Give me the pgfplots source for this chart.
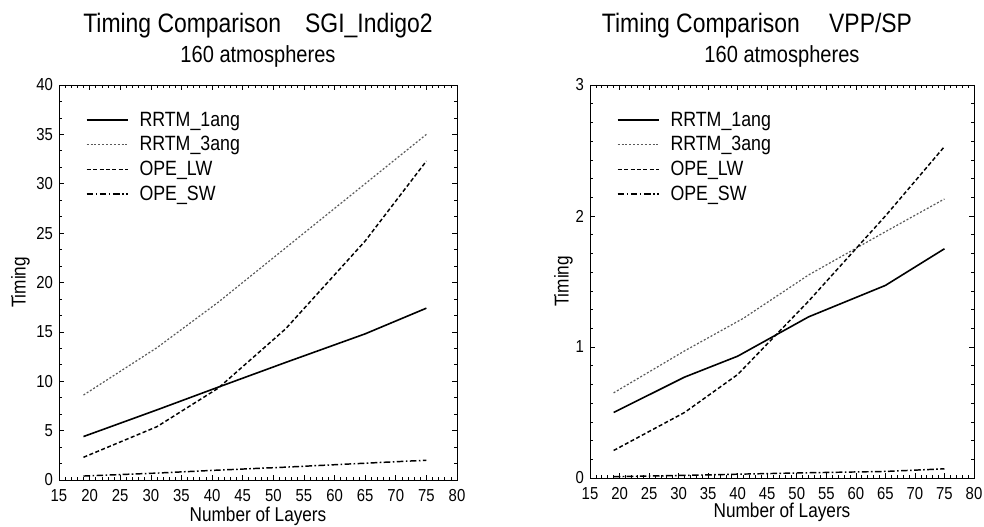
\documentclass[border=0pt]{standalone}
\usepackage{fontspec}
\setmainfont{Liberation Sans}[FakeStretch=0.86]
\usepackage{pgfplots}
\pgfplotsset{compat=1.18}

\pgfplotsset{
  timing/.style={
    scale only axis,
    clip=false,
    anchor=south west,
    xmin=15, xmax=80,
    xtick={15,20,...,80},
    minor x tick num=4,
    tick align=inside,
    major tick length=4pt,
    minor tick length=2.5pt,
    axis line style={line width=0.7pt},
    every tick/.style={line width=0.5pt,black},
    tick label style={font=\fontsize{13}{15}\selectfont},
    xticklabel style={yshift=-3.5pt},
    yticklabel style={xshift=-1pt},
    /pgf/number format/assume math mode=true,
    xlabel={Number of Layers},
    ylabel={Timing},
    legend cell align=left,
    legend style={draw=none,fill=none,at={(0,1)},anchor=north west,
      xshift=17pt,yshift=-16pt,font=\fontsize{15.5}{17}\selectfont,
      nodes={font=\fontsize{15.5}{17}\selectfont},
      row sep=2.2pt},
    legend image code/.code={\draw[#1] (0pt,0pt) -- (31pt,0pt);\path (37pt,0pt);},
    every axis plot/.append style={black},
  },
  s1/.style={line width=1.2pt},
  s2/.style={line width=0.9pt,black!65,dash pattern=on 1.5pt off 1.4pt},
  s3/.style={line width=1.1pt,dash pattern=on 3pt off 1.8pt},
  s4/.style={line width=1.1pt,dash pattern=on 5pt off 1.8pt on 1.2pt off 1.8pt},
}

\begin{document}
\begin{tikzpicture}
\useasboundingbox (0,0) rectangle (738pt,395.25pt);
\begin{axis}[timing,
  at={(44.25pt,35.25pt)}, width=298.5pt, height=296.25pt,
  ymin=0, ymax=40, ytick={0,5,...,40}, minor y tick num=2,
  every axis x label/.style={at={(axis description cs:0.5,0)},anchor=base,yshift=-31.5pt,
    font=\fontsize{15}{17}\selectfont},
  every axis y label/.style={at={(axis description cs:0,0.5)},rotate=90,anchor=center,yshift=29pt,
    font=\fontsize{15}{17}\selectfont},
]
\addplot[s1] coordinates {(19,4.4) (31,7.1) (41,9.4) (52,11.9) (65,14.8) (75,17.4)};
\addlegendentry{RRTM\_1ang}
\addplot[s2] coordinates {(19,8.6) (31,13.4) (41,18.0) (52,23.5) (65,30.0) (75,35.0)};
\addlegendentry{RRTM\_3ang}
\addplot[s3] coordinates {(19,2.3) (31,5.4) (41,9.3) (52,15.3) (65,24.2) (75,32.3)};
\addlegendentry{OPE\_LW}
\addplot[s4] coordinates {(19,0.4) (31,0.7) (41,1.0) (52,1.3) (65,1.7) (75,2.0)};
\addlegendentry{OPE\_SW}
\node[anchor=base,font=\fontsize{17.5}{20}\selectfont] at (rel axis cs:0.5,1) [yshift=16.5pt] {160 atmospheres};
\node[anchor=base,font=\fontsize{20}{23}\selectfont] at (rel axis cs:0.5,1) [yshift=39.5pt] {Timing Comparison\hspace{0.9em}SGI\_Indigo2};
\end{axis}
\begin{axis}[timing,
  at={(442.5pt,36.75pt)}, width=288pt, height=294.75pt,
  ymin=0, ymax=3, ytick={0,1,2,3}, minor y tick num=6,
  every axis x label/.style={at={(axis description cs:0.5,0)},anchor=base,yshift=-30pt,
    font=\fontsize{15}{17}\selectfont},
  every axis y label/.style={at={(axis description cs:0,0.5)},rotate=90,anchor=center,yshift=20pt,
    font=\fontsize{15}{17}\selectfont},
]
\addplot[s1] coordinates {(19,0.50) (31,0.77) (40,0.93) (52,1.23) (65,1.47) (75,1.75)};
\addlegendentry{RRTM\_1ang}
\addplot[s2] coordinates {(19,0.65) (31,0.97) (41,1.22) (52,1.55) (65,1.88) (75,2.13)};
\addlegendentry{RRTM\_3ang}
\addplot[s3] coordinates {(19,0.21) (31,0.50) (40,0.79) (52,1.35) (65,2.00) (75,2.53)};
\addlegendentry{OPE\_LW}
\addplot[s4] coordinates {(19,0.01) (31,0.02) (41,0.03) (52,0.04) (65,0.05) (75,0.07)};
\addlegendentry{OPE\_SW}
\node[anchor=base,font=\fontsize{17.5}{20}\selectfont] at (rel axis cs:0.5,1) [yshift=16.5pt] {160 atmospheres};
\node[anchor=base,font=\fontsize{20}{23}\selectfont] at (rel axis cs:0.5,1) [yshift=39.5pt,xshift=-18.75pt] {Timing Comparison\hspace{1.1em}VPP/SP};
\end{axis}
\end{tikzpicture}
\end{document}
